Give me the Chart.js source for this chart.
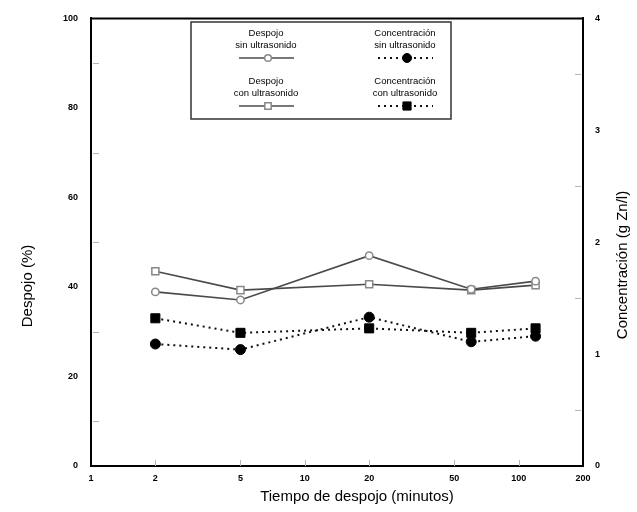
<!DOCTYPE html>
<html><head><meta charset="utf-8">
<script src="https://cdn.jsdelivr.net/npm/chart.js@4/dist/chart.umd.min.js"></script>
<style>html,body{margin:0;padding:0;background:#fff}#wrap{width:637px;height:512px}</style>
</head><body><div id="wrap"><canvas id="c" width="637" height="512"></canvas></div>
<script>
const times = [2, 5, 20, 60, 120];
const despojoSin = [38.9, 37.1, 47.0, 39.5, 41.3];
const despojoCon = [43.5, 39.3, 40.6, 39.3, 40.4];
const concSin = [1.09, 1.04, 1.33, 1.11, 1.16];
const concCon = [1.32, 1.19, 1.23, 1.19, 1.23];
const xTicks = [1, 2, 5, 10, 20, 50, 100, 200];
const leftTicks = [0, 20, 40, 60, 80, 100];
const rightTicks = [0, 1, 2, 3, 4];
const leftMinor = [10, 30, 50, 70, 90];
const rightMinor = [0.5, 1.5, 2.5, 3.5];
const xTitle = 'Tiempo de despojo (minutos)';
const yTitle = 'Despojo (%)';
const y1Title = 'Concentración (g Zn/l)';
const legendItems = [
  ['Despojo', 'sin ultrasonido'],
  ['Concentración', 'sin ultrasonido'],
  ['Despojo', 'con ultrasonido'],
  ['Concentración', 'con ultrasonido']
];

const pts = (xs, ys) => xs.map((x, i) => ({x: x, y: ys[i]}));

const extras = {
  id: 'extras',
  afterDraw(chart) {
    const ctx = chart.ctx, a = chart.chartArea;
    const sx = chart.scales.x, sy = chart.scales.y, sy1 = chart.scales.y1;
    ctx.save();
    ctx.strokeStyle = '#000'; ctx.lineWidth = 2;
    ctx.beginPath(); ctx.moveTo(a.left, a.top); ctx.lineTo(a.right, a.top); ctx.stroke();
    ctx.strokeStyle = '#b5b5b5'; ctx.lineWidth = 1;
    xTicks.slice(1, -1).forEach(v => {
      const px = Math.round(sx.getPixelForValue(v)) + 0.5;
      ctx.beginPath(); ctx.moveTo(px, a.bottom); ctx.lineTo(px, a.bottom - 6); ctx.stroke();
    });
    leftMinor.forEach(v => {
      const py = Math.round(sy.getPixelForValue(v)) + 0.5;
      ctx.beginPath(); ctx.moveTo(a.left + 2, py); ctx.lineTo(a.left + 8, py); ctx.stroke();
    });
    rightMinor.forEach(v => {
      const py = Math.round(sy1.getPixelForValue(v)) + 0.5;
      ctx.beginPath(); ctx.moveTo(a.right - 2, py); ctx.lineTo(a.right - 8, py); ctx.stroke();
    });
    ctx.fillStyle = '#000';
    ctx.font = '15px "Liberation Sans", Arial, sans-serif';
    ctx.textAlign = 'center'; ctx.textBaseline = 'middle';
    ctx.fillText(xTitle, 357, 497);
    ctx.save(); ctx.translate(28, 286); ctx.rotate(-Math.PI / 2); ctx.fillText(yTitle, 0, 0); ctx.restore();
    ctx.save(); ctx.translate(623, 265); ctx.rotate(-Math.PI / 2); ctx.fillText(y1Title, 0, 0); ctx.restore();
    const bx = 191, by = 22, bw = 260, bh = 97;
    ctx.fillStyle = '#fff'; ctx.fillRect(bx, by, bw, bh);
    ctx.strokeStyle = '#333'; ctx.lineWidth = 1.5; ctx.strokeRect(bx, by, bw, bh);
    ctx.font = '9.5px "Liberation Sans", Arial, sans-serif';
    ctx.fillStyle = '#000';
    const cols = [266, 405], rows = [33, 81];
    legendItems.forEach((it, i) => {
      const cx = cols[i % 2], cy = rows[Math.floor(i / 2)];
      ctx.fillStyle = '#000';
      ctx.fillText(it[0], cx, cy);
      ctx.fillText(it[1], cx, cy + 12);
      const ly = cy + 25;
      const ds = chart.data.datasets[[0, 2, 1, 3][i]];
      ctx.save();
      ctx.strokeStyle = ds.borderColor; ctx.lineWidth = ds.borderWidth;
      ctx.setLineDash(ds.borderDash || []);
      ctx.beginPath(); ctx.moveTo(cx - 27, ly); ctx.lineTo(cx + 28, ly); ctx.stroke();
      ctx.restore();
      const r = ds.pointRadius * 0.9;
      ctx.fillStyle = ds.pointBackgroundColor; ctx.strokeStyle = ds.pointBorderColor; ctx.lineWidth = ds.pointBorderWidth;
      ctx.beginPath();
      if (ds.pointStyle === 'circle') ctx.arc(cx + 2, ly, r, 0, Math.PI * 2);
      else { const s = r * Math.SQRT1_2; ctx.rect(cx + 2 - s, ly - s, 2 * s, 2 * s); }
      ctx.fill(); ctx.stroke();
    });
    ctx.restore();
  }
};

const tickFont = {family: '"Liberation Sans", Arial, sans-serif', size: 9, weight: 'bold'};

new Chart(document.getElementById('c'), {
  type: 'line',
  data: {
    datasets: [
      {label: 'Despojo sin ultrasonido', data: pts(times, despojoSin), yAxisID: 'y',
       borderColor: '#4a4a4a', borderWidth: 1.6, pointStyle: 'circle', pointRadius: 3.7,
       pointBackgroundColor: '#fff', pointBorderColor: '#888', pointBorderWidth: 1.5},
      {label: 'Despojo con ultrasonido', data: pts(times, despojoCon), yAxisID: 'y',
       borderColor: '#4a4a4a', borderWidth: 1.6, pointStyle: 'rect', pointRadius: 5,
       pointBackgroundColor: '#fff', pointBorderColor: '#888', pointBorderWidth: 1.5},
      {label: 'Concentración sin ultrasonido', data: pts(times, concSin), yAxisID: 'y1',
       borderColor: '#111', borderWidth: 2, borderDash: [2, 4], pointStyle: 'circle', pointRadius: 5,
       pointBackgroundColor: '#000', pointBorderColor: '#000', pointBorderWidth: 1},
      {label: 'Concentración con ultrasonido', data: pts(times, concCon), yAxisID: 'y1',
       borderColor: '#111', borderWidth: 2, borderDash: [2, 4], pointStyle: 'rect', pointRadius: 6.4,
       pointBackgroundColor: '#000', pointBorderColor: '#000', pointBorderWidth: 1}
    ]
  },
  options: {
    responsive: false, animation: false,
    layout: {padding: {top: 13, left: 0, right: 0, bottom: 0}},
    plugins: {legend: {display: false}, tooltip: {enabled: false}},
    scales: {
      x: {
        type: 'logarithmic', min: 1, max: 200,
        afterBuildTicks: s => { s.ticks = xTicks.map(v => ({value: v})); },
        afterFit: s => { s.height = 46; },
        grid: {display: false, drawTicks: false},
        border: {display: true, color: '#000', width: 2},
        ticks: {autoSkip: false, maxRotation: 0, padding: 7, color: '#000', font: tickFont,
          callback: v => String(v)}
      },
      y: {
        position: 'left', min: 0, max: 100,
        afterBuildTicks: s => { s.ticks = leftTicks.map(v => ({value: v})); },
        afterFit: s => { s.width = 91; },
        grid: {display: false, drawTicks: false},
        border: {display: true, color: '#000', width: 2},
        ticks: {padding: 13, color: '#000', font: tickFont}
      },
      y1: {
        position: 'right', min: 0, max: 4,
        afterBuildTicks: s => { s.ticks = rightTicks.map(v => ({value: v})); },
        afterFit: s => { s.width = 54; },
        grid: {display: false, drawTicks: false},
        border: {display: true, color: '#000', width: 2},
        ticks: {padding: 12, color: '#000', font: tickFont}
      }
    }
  },
  plugins: [extras]
});
</script></body></html>
